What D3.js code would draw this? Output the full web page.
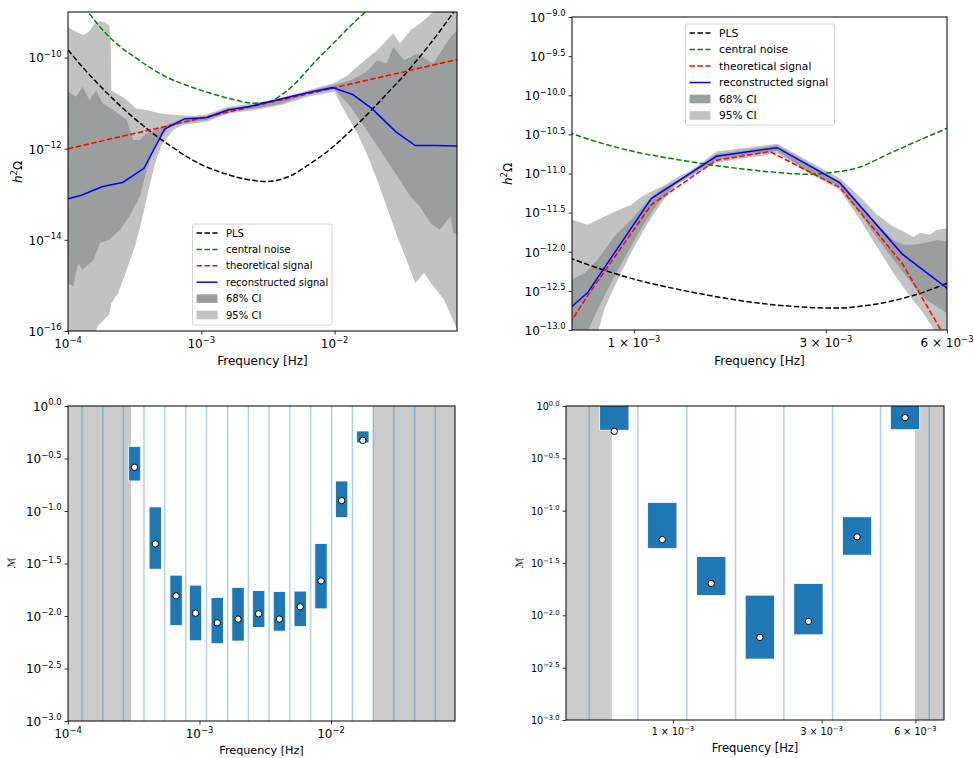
<!DOCTYPE html>
<html>
<head>
<meta charset="utf-8">
<script src="https://cdn.jsdelivr.net/npm/d3@7"></script>
<style>
  body { margin: 0; background: #fff; }
  svg { display: block; font-family: "DejaVu Sans", sans-serif; }
</style>
</head>
<body>
<svg id="chart" width="974" height="758"></svg>
<script>
// values, stored as [log10 f, log10 value]

// power-law sensitivity (same curve in both upper panels)
var plsCurve = [[-4.0,-9.83],[-3.9,-10.18],[-3.8,-10.50],[-3.7,-10.80],[-3.6,-11.08],[-3.5,-11.34],[-3.4,-11.58],
  [-3.3,-11.80],[-3.2,-12.00],[-3.1,-12.19],[-3.0,-12.35],[-2.9,-12.47],[-2.8,-12.57],[-2.7,-12.65],[-2.6,-12.70],
  [-2.5,-12.72],[-2.4,-12.67],[-2.3,-12.55],[-2.2,-12.36],[-2.1,-12.16],[-2.0,-11.93],[-1.9,-11.66],[-1.8,-11.38],
  [-1.7,-11.08],[-1.6,-10.77],[-1.5,-10.46],[-1.4,-10.12],[-1.3,-9.76],[-1.2,-9.38],[-1.1,-8.97],[-1.0,-8.55]];

// top-left: wide band
var noiseWide = [[-3.92,-8.78],[-3.85,-9.0],[-3.76,-9.33],[-3.6,-9.78],[-3.5,-9.99],[-3.4,-10.19],[-3.26,-10.43],
  [-3.1,-10.62],[-3.0,-10.72],[-2.9,-10.81],[-2.76,-10.92],[-2.61,-11.00],[-2.5,-10.98],[-2.4,-10.82],[-2.3,-10.58],
  [-2.2,-10.26],[-2.1,-9.95],[-2.0,-9.66],[-1.9,-9.36],[-1.77,-9.0],[-1.7,-8.8]];
var signalWide = [[-4.0,-12.0],[-3.0,-11.33],[-2.0,-10.66],[-1.0,-9.99]];
var reconWide = [[-4.0,-13.10],[-3.90,-13.02],[-3.74,-12.83],[-3.59,-12.74],[-3.43,-12.43],[-3.275,-11.57],
  [-3.125,-11.34],[-2.963,-11.32],[-2.80,-11.15],[-2.65,-11.08],[-2.49,-10.97],[-2.335,-10.86],[-2.17,-10.75],
  [-2.015,-10.66],[-1.865,-10.81],[-1.72,-11.12],[-1.54,-11.63],[-1.395,-11.93],[-1.24,-11.93],[-1.08,-11.94]];
var ci95WideHi = [[-4.0,-9.33],[-3.96,-9.40],[-3.92,-9.46],[-3.88,-9.50],[-3.84,-9.42],[-3.80,-9.26],[-3.76,-9.20],
  [-3.72,-9.23],[-3.69,-9.30],[-3.68,-9.6],[-3.675,-10.72],[-3.6,-10.85],[-3.56,-10.93],[-3.49,-11.12],[-3.41,-11.15],
  [-3.31,-11.23],[-3.19,-11.26],[-3.06,-11.28],[-2.96,-11.25],[-2.8,-11.08],[-2.6,-11.0],[-2.4,-10.88],[-2.2,-10.72],
  [-2.0,-10.55],[-1.9,-10.38],[-1.76,-10.02],[-1.68,-9.84],[-1.61,-9.62],[-1.56,-9.47],[-1.51,-9.69],[-1.43,-9.40],
  [-1.36,-9.26],[-1.26,-9.0],[-1.0,-8.9]];
var ci95WideLo = [[-4.0,-16.2],[-3.81,-16.2],[-3.78,-15.9],[-3.69,-15.64],[-3.675,-15.39],[-3.625,-15.17],
  [-3.56,-14.66],[-3.49,-14.07],[-3.44,-13.49],[-3.39,-12.83],[-3.34,-12.25],[-3.29,-11.88],[-3.21,-11.59],
  [-3.14,-11.48],[-3.06,-11.44],[-2.96,-11.41],[-2.8,-11.23],[-2.6,-11.15],[-2.4,-11.04],[-2.2,-10.86],[-2.0,-10.75],
  [-1.93,-11.15],[-1.83,-11.66],[-1.76,-12.10],[-1.68,-12.69],[-1.61,-13.27],[-1.53,-13.93],[-1.46,-14.44],
  [-1.395,-14.95],[-1.33,-14.73],[-1.26,-15.02],[-1.18,-15.31],[-1.08,-15.97],[-1.0,-16.2]];
var ci68WideHi = [[-4.0,-10.75],[-3.94,-10.86],[-3.89,-10.64],[-3.84,-10.93],[-3.79,-10.72],[-3.74,-11.0],
  [-3.66,-11.15],[-3.56,-11.37],[-3.51,-11.81],[-3.46,-11.81],[-3.41,-11.66],[-3.34,-11.59],[-3.26,-11.48],
  [-3.16,-11.37],[-3.06,-11.32],[-2.96,-11.28],[-2.8,-11.11],[-2.6,-11.04],[-2.4,-10.92],[-2.2,-10.74],[-2.0,-10.60],
  [-1.88,-10.50],[-1.76,-10.31],[-1.68,-10.06],[-1.61,-10.13],[-1.56,-9.77],[-1.48,-10.06],[-1.38,-9.91],
  [-1.26,-10.13],[-1.18,-9.77],[-1.13,-9.55],[-1.08,-9.40]];
var ci68WideLo = [[-4.0,-14.95],[-3.96,-15.02],[-3.925,-14.51],[-3.89,-14.66],[-3.81,-14.44],[-3.76,-14.07],
  [-3.69,-14.0],[-3.61,-13.78],[-3.54,-13.49],[-3.46,-13.05],[-3.41,-12.47],[-3.36,-12.03],[-3.31,-11.74],
  [-3.24,-11.52],[-3.14,-11.44],[-2.96,-11.37],[-2.8,-11.19],[-2.6,-11.12],[-2.4,-11.01],[-2.2,-10.80],[-2.0,-10.70],
  [-1.88,-11.08],[-1.76,-11.59],[-1.66,-12.03],[-1.56,-12.47],[-1.51,-12.69],[-1.43,-13.05],[-1.36,-13.27],
  [-1.28,-13.64],[-1.21,-13.78],[-1.13,-13.49],[-1.11,-13.86],[-1.08,-13.86]];

// top-right: zoom on the peak
var noiseZoom = [[-3.2,-10.40],[-3.154,-10.49],[-3.0,-10.72],[-2.895,-10.82],[-2.795,-10.90],[-2.679,-10.97],
  [-2.563,-11.01],[-2.521,-10.995],[-2.446,-10.93],[-2.363,-10.74],[-2.289,-10.57],[-2.221,-10.42],[-2.2,-10.37]];
var signalZoom = [[-3.16,-12.92],[-3.115,-12.56],[-2.957,-11.40],[-2.795,-10.83],[-2.662,-10.72],[-2.488,-11.18],
  [-2.333,-12.15],[-2.22,-13.15]];
var reconZoom = [[-3.154,-12.70],[-3.115,-12.52],[-2.957,-11.32],[-2.795,-10.78],[-2.644,-10.67],[-2.488,-11.12],
  [-2.333,-12.03],[-2.221,-12.47]];
var ci95ZoomHi = [[-3.154,-11.59],[-3.115,-11.655],[-3.09,-11.59],[-3.048,-11.49],[-3.007,-11.40],[-2.982,-11.30],
  [-2.957,-11.23],[-2.924,-11.15],[-2.89,-11.04],[-2.857,-10.96],[-2.795,-10.72],[-2.644,-10.62],[-2.563,-10.85],
  [-2.488,-11.06],[-2.438,-11.30],[-2.397,-11.52],[-2.355,-11.68],[-2.33,-11.74],[-2.305,-11.81],[-2.289,-11.76],
  [-2.264,-11.78],[-2.247,-11.72],[-2.221,-11.70]];
var ci95ZoomLo = [[-3.154,-13.1],[-3.094,-13.1],[-3.073,-12.73],[-3.048,-12.44],[-3.007,-12.01],[-2.965,-11.63],
  [-2.924,-11.32],[-2.89,-11.13],[-2.795,-10.86],[-2.644,-10.74],[-2.563,-11.0],[-2.488,-11.21],[-2.438,-11.59],
  [-2.397,-11.93],[-2.355,-12.27],[-2.314,-12.57],[-2.28,-12.79],[-2.256,-12.98],[-2.247,-13.1],[-2.221,-13.1]];
var ci68ZoomHi = [[-3.154,-12.35],[-3.122,-12.27],[-3.09,-12.10],[-3.048,-11.80],[-3.007,-11.59],[-2.957,-11.30],
  [-2.924,-11.17],[-2.882,-11.06],[-2.795,-10.75],[-2.644,-10.64],[-2.563,-10.88],[-2.488,-11.10],[-2.438,-11.40],
  [-2.397,-11.64],[-2.355,-11.85],[-2.33,-11.91],[-2.305,-11.91],[-2.28,-11.89],[-2.247,-11.85],[-2.221,-11.87]];
var ci68ZoomLo = [[-3.154,-13.1],[-3.122,-13.1],[-3.098,-12.82],[-3.073,-12.56],[-3.048,-12.31],[-3.007,-11.93],
  [-2.974,-11.63],[-2.94,-11.38],[-2.899,-11.15],[-2.795,-10.82],[-2.644,-10.71],[-2.563,-10.99],[-2.488,-11.17],
  [-2.438,-11.51],[-2.397,-11.81],[-2.355,-12.10],[-2.322,-12.32],[-2.297,-12.49],[-2.272,-12.62],[-2.247,-12.70],
  [-2.221,-12.79]];

// bottom-left: per-bin statistic, wide band
var binEdgesWide = [-3.893,-3.735,-3.578,-3.422,-3.265,-3.104,-2.947,-2.786,-2.628,-2.471,-2.313,-2.155,-1.995,
  -1.837,-1.679,-1.522,-1.364,-1.206];
var maskedWide = [[-4.2,-3.521],[-1.679,-0.9]];
var binMidWide = [-3.494,-3.336,-3.178,-3.03,-2.865,-2.707,-2.550,-2.392,-2.234,-2.076,-1.919,-1.758];
var binLowWide = [-0.714,-1.554,-2.090,-2.236,-2.264,-2.239,-2.109,-2.144,-2.100,-1.932,-1.062,-0.352];
var binHighWide = [-0.384,-0.961,-1.611,-1.706,-1.824,-1.728,-1.757,-1.767,-1.763,-1.310,-0.714,-0.238];
var binMedWide = [-0.584,-1.313,-1.808,-1.973,-2.065,-2.030,-1.979,-2.030,-1.912,-1.665,-0.901,-0.327];

// bottom-right: per-bin statistic, zoom
var binEdgesZoom = [-3.2685,-3.1123,-2.9551,-2.7989,-2.6438,-2.4876,-2.3335,-2.1774];
var maskedZoom = [[-3.5,-3.196],[-2.2233,-2.0]];
var binMidZoom = [-3.188,-3.034,-2.877,-2.721,-2.565,-2.409,-2.255];
var binLowZoom = [-0.232,-1.362,-1.810,-2.418,-2.186,-1.425,-0.226];
var binHighZoom = [0.05,-0.921,-1.438,-1.807,-1.696,-1.059,0.05];
var binMedZoom = [-0.242,-1.276,-1.696,-2.211,-2.058,-1.250,-0.111];

var legendLabels = ["PLS", "central noise", "theoretical signal", "reconstructed signal", "68% CI", "95% CI"];

// ---------------------------------------------------------------
var svg = d3.select("#chart");
var MINUS = "\u2212";
var DASH = "5.55,2.4";
var c68 = "#9b9e9e", c95 = "#c2c2c2";

var lin = function(v) { return Math.pow(10, v); };
var fmt = function(v, digits) {
  var s = digits ? Math.abs(v).toFixed(digits) : String(Math.abs(v));
  return (v < 0 ? MINUS : "") + s;
};

function makePanel(name, box, xDom, yDom) {
  var x = d3.scaleLog().domain(xDom).range([box.left, box.right]);
  var y = d3.scaleLog().domain(yDom).range([box.bottom, box.top]);
  svg.append("clipPath").attr("id", "clip-" + name)
    .append("rect")
    .attr("x", box.left).attr("y", box.top)
    .attr("width", box.right - box.left).attr("height", box.bottom - box.top);
  var plot = svg.append("g").attr("clip-path", "url(#clip-" + name + ")");
  return { x: x, y: y, plot: plot, box: box };
}

function supLabel(g, px, py, anchor, size, base, sup) {
  var t = g.append("text")
    .attr("x", px).attr("y", py)
    .attr("text-anchor", anchor)
    .attr("font-size", size)
    .attr("fill", "#000");
  t.append("tspan").text(base);
  t.append("tspan").attr("font-size", size * 0.7).attr("dy", -size * 0.45).text(sup);
}

function drawAxes(p, o) {
  var b = p.box;
  var gx = svg.append("g").attr("transform", "translate(0," + b.bottom + ")")
    .call(d3.axisBottom(p.x).tickValues(o.xTicks.map(function(t) { return t.v; })).tickSize(3.5).tickFormat(""));
  var gy = svg.append("g").attr("transform", "translate(" + b.left + ",0)")
    .call(d3.axisLeft(p.y).tickValues(o.yTicks.map(function(t) { return t.v; })).tickSize(3.5).tickFormat(""));
  [gx, gy].forEach(function(g) {
    g.select(".domain").remove();
    g.selectAll("line").attr("stroke", "#000").attr("stroke-width", 0.8);
  });

  svg.append("rect")
    .attr("x", b.left).attr("y", b.top)
    .attr("width", b.right - b.left).attr("height", b.bottom - b.top)
    .attr("fill", "none").attr("stroke", "#000").attr("stroke-width", 1);

  var lab = svg.append("g");
  o.xTicks.forEach(function(t) {
    supLabel(lab, p.x(t.v), b.bottom + o.xTickDy, "middle", o.tickSize, t.base, t.sup);
  });
  o.yTicks.forEach(function(t) {
    supLabel(lab, b.left - 6.5, p.y(t.v) + o.tickSize * 0.4, "end", o.tickSize, t.base, t.sup);
  });

  lab.append("text")
    .attr("x", (b.left + b.right) / 2).attr("y", o.xLabelY)
    .attr("text-anchor", "middle").attr("font-size", o.labelSize)
    .text("Frequency [Hz]");
}

function decadeTicks(exps) {
  return exps.map(function(e) { return { v: lin(e), base: "10", sup: fmt(e) }; });
}
function halfDecadeTicks(exps) {
  return exps.map(function(e) { return { v: lin(e), base: "10", sup: fmt(e, 1) }; });
}
function mantissaTicks(ms) {
  return ms.map(function(m) { return { v: m * 1e-3, base: m + " \u00d7 10", sup: MINUS + "3" }; });
}

function band(p, upper, lower, color) {
  var pts = upper.concat(lower.slice().reverse());
  var line = d3.line().x(function(d) { return p.x(lin(d[0])); }).y(function(d) { return p.y(lin(d[1])); });
  p.plot.append("path").attr("d", line(pts) + "Z").attr("fill", color).attr("stroke", "none");
}

function curve(p, data, color, dashed, smooth) {
  var line = d3.line()
    .x(function(d) { return p.x(lin(d[0])); })
    .y(function(d) { return p.y(lin(d[1])); })
    .curve(smooth ? d3.curveMonotoneX : d3.curveLinear);
  p.plot.append("path").attr("d", line(data))
    .attr("fill", "none").attr("stroke", color).attr("stroke-width", 1.5)
    .attr("stroke-dasharray", dashed ? DASH : null);
}

function hSquared(px, py) {
  var t = svg.append("text")
    .attr("transform", "translate(" + px + "," + py + ") rotate(-90)")
    .attr("text-anchor", "middle").attr("font-size", 12);
  t.append("tspan").attr("font-style", "italic").text("h");
  t.append("tspan").attr("font-size", 8.4).attr("dy", -5).text("2");
  t.append("tspan").attr("dy", 5).text("\u03a9");
}

function legend(x0, y0, w, h, step, fs) {
  var g = svg.append("g");
  g.append("rect").attr("x", x0).attr("y", y0).attr("width", w).attr("height", h)
    .attr("rx", 2).attr("fill", "#fff").attr("fill-opacity", 0.8)
    .attr("stroke", "#d5d5d5").attr("stroke-width", 1);
  var styles = [
    { color: "#000", dash: true }, { color: "green", dash: true }, { color: "red", dash: true },
    { color: "blue", dash: false }, { patch: c68 }, { patch: c95 }
  ];
  legendLabels.forEach(function(label, i) {
    var cy = y0 + 9 + i * step;
    var s = styles[i];
    if (s.patch) {
      g.append("rect").attr("x", x0 + 4).attr("y", cy - 4.3).attr("width", 21).attr("height", 8.6).attr("fill", s.patch);
    } else {
      g.append("line").attr("x1", x0 + 4).attr("x2", x0 + 25).attr("y1", cy).attr("y2", cy)
        .attr("stroke", s.color).attr("stroke-width", 1.5)
        .attr("stroke-dasharray", s.dash ? DASH : null);
    }
    g.append("text").attr("x", x0 + 33.5).attr("y", cy + fs * 0.36)
      .attr("font-size", fs).text(label);
  });
}

// ---------------- top-left ----------------
var tl = makePanel("tl", { left: 68, top: 12, right: 457, bottom: 331 }, [1e-4, lin(-1.082)], [1e-16, 1e-9]);
band(tl, ci95WideHi, ci95WideLo, c95);
band(tl, ci68WideHi, ci68WideLo, c68);
curve(tl, plsCurve, "#000", true, true);
curve(tl, noiseWide, "green", true, true);
curve(tl, signalWide, "red", true, false);
curve(tl, reconWide, "blue", false, false);
drawAxes(tl, {
  xTicks: decadeTicks([-4, -3, -2]),
  yTicks: decadeTicks([-16, -14, -12, -10]),
  tickSize: 12, xTickDy: 17, labelSize: 12, xLabelY: 365
});
hSquared(22, 172);
legend(192.5, 224, 139.5, 101, 16.4, 10);

// ---------------- top-right ----------------
var tr = makePanel("tr", { left: 572, top: 17, right: 947, bottom: 330 }, [lin(-3.154), 6e-3], [1e-13, 1e-9]);
band(tr, ci95ZoomHi, ci95ZoomLo, c95);
band(tr, ci68ZoomHi, ci68ZoomLo, c68);
curve(tr, plsCurve, "#000", true, true);
curve(tr, noiseZoom, "green", true, true);
curve(tr, signalZoom, "red", true, false);
curve(tr, reconZoom, "blue", false, false);
drawAxes(tr, {
  xTicks: mantissaTicks([1, 3, 6]),
  yTicks: halfDecadeTicks([-13, -12.5, -12, -11.5, -11, -10.5, -10, -9.5, -9]),
  tickSize: 12, xTickDy: 17, labelSize: 12, xLabelY: 365
});
hSquared(512, 174);
legend(685.5, 24, 149, 101, 16.5, 10.7);

// ---------------- bottom panels ----------------
function binPanel(p, edges, masked, mids, lows, highs, meds) {
  var halfW = 0.047;
  masked.forEach(function(m) {
    p.plot.append("rect")
      .attr("x", p.x(lin(m[0]))).attr("width", p.x(lin(m[1])) - p.x(lin(m[0])))
      .attr("y", p.box.top).attr("height", p.box.bottom - p.box.top)
      .attr("fill", "#cbcbcb");
  });
  p.plot.selectAll("line.edge").data(edges).enter().append("line")
    .attr("class", "edge")
    .attr("x1", function(d) { return p.x(lin(d)); }).attr("x2", function(d) { return p.x(lin(d)); })
    .attr("y1", p.box.top).attr("y2", p.box.bottom)
    .attr("stroke", "#1f77b4").attr("stroke-opacity", 0.35).attr("stroke-width", 1.5);
  p.plot.selectAll("rect.bin").data(mids).enter().append("rect")
    .attr("class", "bin")
    .attr("x", function(d) { return p.x(lin(d - halfW)); })
    .attr("width", function(d) { return p.x(lin(d + halfW)) - p.x(lin(d - halfW)); })
    .attr("y", function(d, i) { return p.y(lin(highs[i])); })
    .attr("height", function(d, i) { return p.y(lin(lows[i])) - p.y(lin(highs[i])); })
    .attr("fill", "#1f77b4").attr("stroke", "#fff").attr("stroke-width", 0.8);
  p.plot.selectAll("circle.med").data(mids).enter().append("circle")
    .attr("class", "med")
    .attr("cx", function(d) { return p.x(lin(d)); })
    .attr("cy", function(d, i) { return p.y(lin(meds[i])); })
    .attr("r", 3.2).attr("fill", "#fff").attr("stroke", "#000").attr("stroke-width", 1);
}

function mLabel(px, py) {
  svg.append("text")
    .attr("transform", "translate(" + px + "," + py + ") rotate(-90)")
    .attr("text-anchor", "middle").attr("font-size", 10)
    .attr("font-style", "italic")
    .text("\u2133");
}

var bl = makePanel("bl", { left: 68, top: 406, right: 455, bottom: 721 }, [1e-4, lin(-1.057)], [1e-3, 1]);
binPanel(bl, binEdgesWide, maskedWide, binMidWide, binLowWide, binHighWide, binMedWide);
drawAxes(bl, {
  xTicks: decadeTicks([-4, -3, -2]),
  yTicks: halfDecadeTicks([-3, -2.5, -2, -1.5, -1, -0.5, 0]),
  tickSize: 12, xTickDy: 17, labelSize: 11.2, xLabelY: 754
});
mLabel(15, 563);

var br = makePanel("br", { left: 566, top: 406, right: 944, bottom: 720 }, [lin(-3.343), lin(-2.130)], [1e-3, 1]);
binPanel(br, binEdgesZoom, maskedZoom, binMidZoom, binLowZoom, binHighZoom, binMedZoom);
drawAxes(br, {
  xTicks: mantissaTicks([1, 3, 6]),
  yTicks: halfDecadeTicks([-3, -2.5, -2, -1.5, -1, -0.5, 0]),
  tickSize: 9.6, xTickDy: 15, labelSize: 11.5, xLabelY: 752
});
mLabel(523, 563);
</script>
</body>
</html>
